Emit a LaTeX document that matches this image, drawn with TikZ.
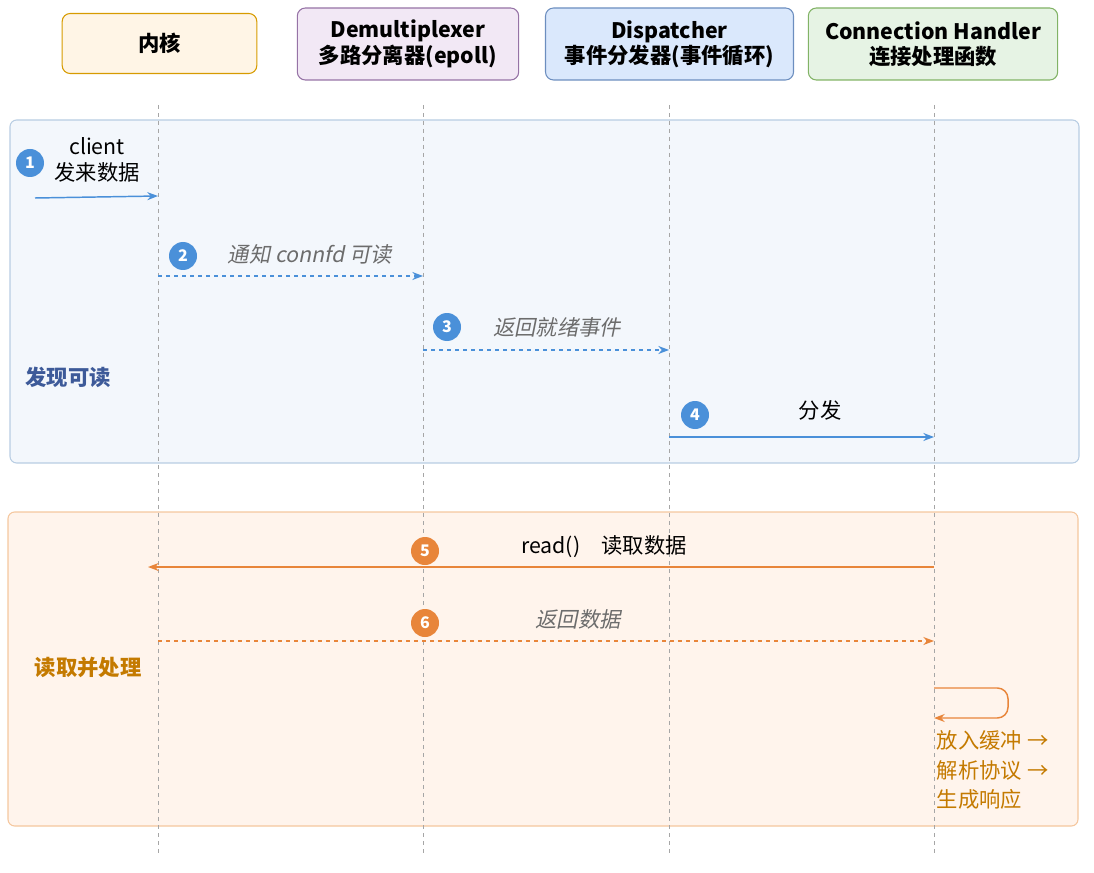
\documentclass[tikz,border=0pt]{standalone}
\usepackage{fontspec}
\setmainfont{Noto Sans CJK SC}
\newfontfamily\itcjk[FakeSlant=0.2]{Noto Sans CJK SC}
\usetikzlibrary{arrows.meta}
\definecolor{blu}{HTML}{4A90D9}
\definecolor{ora}{HTML}{E8853A}
\definecolor{brn}{HTML}{C47A00}
\definecolor{g1f}{HTML}{F3F7FC}\definecolor{g1d}{HTML}{B8CDE3}
\definecolor{g2f}{HTML}{FFF4EC}\definecolor{g2d}{HTML}{F5C79E}
\definecolor{g1t}{HTML}{3D5A99}
\definecolor{h1f}{HTML}{FFF5E6}\definecolor{h1d}{HTML}{D79B00}
\definecolor{h2f}{HTML}{F2E8F5}\definecolor{h2d}{HTML}{9673A6}
\definecolor{h3f}{HTML}{DAE8FC}\definecolor{h3d}{HTML}{6C8EBF}
\definecolor{h4f}{HTML}{E6F3E4}\definecolor{h4d}{HTML}{82B366}
\begin{document}
\begin{tikzpicture}[x=0.75pt,y=-0.75pt,
 hdr/.style={draw,rounded corners=6pt,line width=0.8pt,inner sep=0pt},
 htxt/.style={font=\fontsize{16}{19}\selectfont\bfseries,align=center},
 life/.style={draw=gray!70,dashed,line width=0.7pt},
 num/.style={circle,fill=#1,text=white,inner sep=0pt,minimum size=21pt,font=\fontsize{12}{12}\selectfont\bfseries},
 lab/.style={font=\fontsize{16}{19}\selectfont,align=center},
 ilab/.style={font=\fontsize{16}{19}\itcjk,text=gray!85!black},
 ar/.style={line width=1.1pt,-{Stealth[length=8pt,width=6pt]}}]
\useasboundingbox (0,0) rectangle (1094,873);
\draw[fill=g1f,draw=g1d,line width=0.8pt,rounded corners=5pt] (10,120) rectangle (1079,463);
\draw[fill=g2f,draw=g2d,line width=0.8pt,rounded corners=5pt] (8,512) rectangle (1078,826);
\node[font=\fontsize{16}{19}\selectfont\bfseries,text=g1t] (g1) at (68,377) {发现可读};
\node[font=\fontsize{16}{19}\selectfont\bfseries,text=brn] (g2) at (88,667) {读取并处理};
\node[hdr,fill=h1f,draw=h1d] (h1) at (159.5,43.5) {\rule{0pt}{45pt}\makebox[146pt]{}};
\node[htxt] (h1t) at (h1) {内核};
\node[hdr,fill=h2f,draw=h2d] (h2) at (408,44) {\rule{0pt}{54pt}\makebox[166pt]{}};
\node[htxt] (h2t) at (h2) {Demultiplexer\\多路分离器(epoll)};
\node[hdr,fill=h3f,draw=h3d] (h3) at (669.5,44) {\rule{0pt}{54pt}\makebox[186pt]{}};
\node[htxt] (h3t) at (h3) {Dispatcher\\事件分发器(事件循环)};
\node[hdr,fill=h4f,draw=h4d] (h4) at (933,44) {\rule{0pt}{54pt}\makebox[187pt]{}};
\node[htxt] (h4t) at (h4) {Connection Handler\\连接处理函数};
\foreach \x/\n in {158/a,423/b,669/c,934/d}{
 \coordinate (\n t) at (\x,105); \coordinate (\n b) at (\x,855);
 \draw[life] (\n t) -- (\n b);}
\coordinate (s1) at (35,198); \coordinate (e1) at (158,196);
\draw[ar,blu] (s1) -- (e1);
\node[num=blu] (n1) at (30,163) {1};
\node[lab] (t1) at (97,160) {client\\发来数据};
\coordinate (s2) at (158,276); \coordinate (e2) at (423,276);
\draw[ar,blu,dashed] (s2) -- (e2);
\node[num=blu] (n2) at (183,256) {2};
\node[ilab] (t2) at (310,254) {通知 connfd 可读};
\coordinate (s3) at (423,350); \coordinate (e3) at (669,350);
\draw[ar,blu,dashed] (s3) -- (e3);
\node[num=blu] (n3) at (447,327) {3};
\node[ilab] (t3) at (557,327) {返回就绪事件};
\coordinate (s4) at (669,437); \coordinate (e4) at (934,437);
\draw[ar,blu] (s4) -- (e4);
\node[num=blu] (n4) at (695,415) {4};
\node[lab] (t4) at (820,410) {分发};
\coordinate (s5) at (934,567); \coordinate (e5) at (148,567);
\draw[ar,ora] (s5) -- (e5);
\node[num=ora] (n5) at (425,551) {5};
\node[lab] (t5) at (604,547) {read()\quad 读取数据};
\coordinate (s6) at (158,641); \coordinate (e6) at (934,641);
\draw[ar,ora,dashed] (s6) -- (e6);
\node[num=ora] (n6) at (425,623) {6};
\node[ilab] (t6) at (578,619) {返回数据};
\coordinate (s7) at (934,688); \coordinate (e7) at (934,718);
\draw[ar,ora,rounded corners=8pt] (s7) -- (1008,688) -- (1008,718) -- (e7);
\node[font=\fontsize{16}{22}\selectfont,text=brn,align=left,anchor=north west,inner sep=2pt] (t7) at (934,728) {放入缓冲 →\\解析协议 →\\生成响应};
\end{tikzpicture}
\end{document}
